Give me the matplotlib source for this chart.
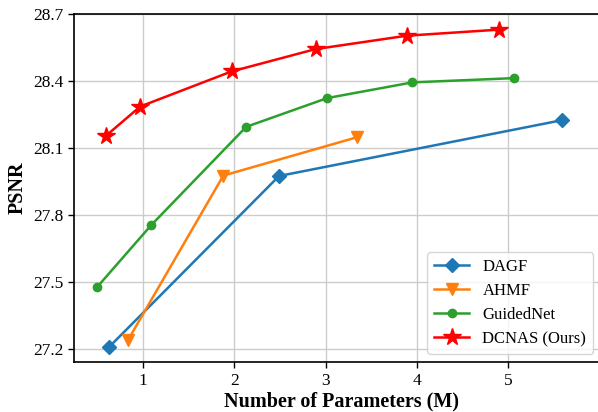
import matplotlib
matplotlib.use("Agg")
import matplotlib.pyplot as plt

# Datos
dagf_x = [0.63, 2.49, 5.59]
dagf_y = [27.21, 27.975, 28.225]

ahmf_x = [0.835, 1.88, 3.34]
ahmf_y = [27.24, 27.977, 28.148]

guided_x = [0.496, 1.09, 2.13, 3.02, 3.95, 5.06]
guided_y = [27.477, 27.755, 28.195, 28.324, 28.394, 28.413]

dcnas_x = [0.595, 0.97, 1.97, 2.89, 3.89, 4.895]
dcnas_y = [28.155, 28.286, 28.443, 28.543, 28.603, 28.63]

y_ticks = [27.2, 27.5, 27.8, 28.1, 28.4, 28.7]
x_ticks = [1, 2, 3, 4, 5]

plt.rcParams["font.family"] = ["Liberation Serif", "DejaVu Serif"]

fig = plt.figure(figsize=(5.98, 4.12), dpi=100)
ax = fig.add_axes([0.123, 0.121, 0.895, 0.845])

ax.plot(dagf_x, dagf_y, color="#1f77b4", marker="D", markersize=7.5, linewidth=1.8, label="DAGF")
ax.plot(ahmf_x, ahmf_y, color="#ff7f0e", marker="v", markersize=8, linewidth=1.8, label="AHMF")
ax.plot(guided_x, guided_y, color="#2ca02c", marker="o", markersize=6, linewidth=1.8, label="GuidedNet")
ax.plot(dcnas_x, dcnas_y, color="red", marker="*", markersize=13, linewidth=1.8, label="DCNAS (Ours)")

ax.set_xlim(0.24, 6.1)
ax.set_ylim(27.142, 28.7)
ax.set_xticks(x_ticks)
ax.set_yticks(y_ticks)
ax.tick_params(labelsize=12.5, length=4, width=1)
ax.grid(True, color="#cccccc", linewidth=1)
ax.set_axisbelow(True)
for s in ax.spines.values():
    s.set_linewidth(1.2)

ax.set_xlabel("Number of Parameters (M)", fontsize=14.5, fontweight="bold", labelpad=2)
ax.set_ylabel("PSNR", fontsize=14.5, fontweight="bold", labelpad=4)

ax.legend(loc="lower right", fontsize=12, handlelength=2.1, borderpad=0.4,
          labelspacing=0.48, handletextpad=0.8,
          bbox_to_anchor=(0.986, 0.0))

fig.savefig("out.png", dpi=100)
